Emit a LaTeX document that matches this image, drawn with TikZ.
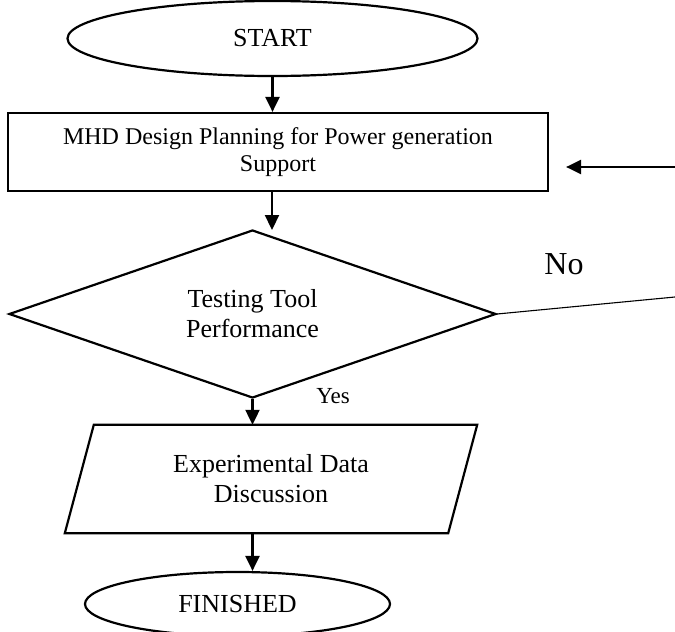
\documentclass[tikz,border=0pt]{standalone}
\usepackage{fontspec}
\setmainfont{Liberation Serif}
\usetikzlibrary{shapes.geometric,arrows.meta,calc}
\tikzset{
  line/.style={draw=black, line width=2.2pt},
  arr/.style={line, -{Triangle[length=15pt,width=14pt]}},
  thinline/.style={draw=black, line width=1.1pt},
  termbox/.style={ellipse, line, inner sep=0pt, font=\fontsize{26}{30}\selectfont},
  procbox/.style={rectangle, line, inner sep=0pt, align=center, font=\fontsize{24}{27}\selectfont},
  decbox/.style={diamond, aspect=2.9, line, inner sep=0pt, align=center, font=\fontsize{26}{30}\selectfont},
  iobox/.style={rectangle, inner sep=0pt, align=center, font=\fontsize{26}{30}\selectfont},
  lbl/.style={inner sep=0pt}
}
\begin{document}
\begin{tikzpicture}[x=1pt,y=-1pt]
\useasboundingbox (0,0) rectangle (675,632);
\node[termbox, minimum width=410pt, minimum height=75pt] (start) at (272.5,38.5) {START};
\node[procbox, minimum width=540pt, minimum height=78pt] (plan) at (278,152) {MHD Design Planning for Power generation\\Support};
\node[decbox, minimum width=487pt, minimum height=168pt] (test) at (252.5,314) {Testing Tool\\Performance};
\node[iobox, minimum width=412pt, minimum height=108pt] (data) at (271,479) {Experimental Data\\Discussion};
\draw[line] ([xshift=29pt]data.north west) -- (data.north east) -- ([xshift=-29pt]data.south east) -- (data.south west) -- cycle;
\node[termbox, minimum width=305pt, minimum height=64pt] (finish) at (237.5,604) {FINISHED};
\node[lbl, font=\fontsize{32}{36}\selectfont] (no) at (564,264) {No};
\node[lbl, font=\fontsize{23}{26}\selectfont] (yes) at (333,396) {Yes};
\coordinate (dtop) at (272,230);
\coordinate (back) at (675,167);
\coordinate (noend) at (675,297);
\draw[arr] (start.south) -- (start.south |- plan.north);
\draw[arr] (plan.south -| dtop) -- (dtop);
\draw[arr] (test.south) -- (test.south |- data.north);
\draw[arr] (test.south |- data.south) -- (test.south |- finish.north);
\draw[arr] (back) -- ([xshift=17pt]plan.east |- back);
\draw[thinline] (test.east) -- (noend);
\end{tikzpicture}
\end{document}
